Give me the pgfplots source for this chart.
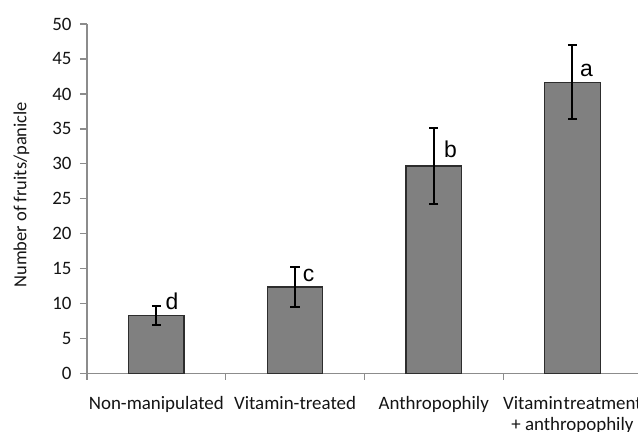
\documentclass[border=0pt]{standalone}
\usepackage{pgfplots}
\pgfplotsset{compat=1.18}
\usepackage{fontspec}
\setmainfont{Carlito}
\newfontfamily\arialfont{Liberation Sans}
\definecolor{barfill}{RGB}{128,128,128}
\definecolor{bardraw}{RGB}{45,45,45}
\definecolor{axgray}{RGB}{140,140,140}
\definecolor{txt}{RGB}{20,20,20}
\pgfplotstableread{
x y e
0 8.3 1.35
1 12.4 2.85
2 29.7 5.4
3 41.65 5.3
}\datatab
\begin{document}
\begin{tikzpicture}
\useasboundingbox (0bp,0bp) rectangle (638bp,432bp);
\clip (0bp,0bp) rectangle (638bp,432bp);
\begin{axis}[
  at={(87bp,58.3bp)}, anchor=south west,
  scale only axis, width=554.8bp, height=349.7bp,
  xmin=-0.5, xmax=3.5, ymin=0, ymax=50,
  axis x line=bottom, axis y line=left,
  axis line style={-, draw=axgray, line width=1.3bp},
  tick align=outside,
  ytick={0,5,...,50},
  major tick length=7bp, minor tick length=6bp,
  tick style={draw=axgray, line width=1.2bp},
  xtick={0,1,2,3},
  major x tick style={draw=none},
  minor xtick={-0.5,0.5,1.5,2.5},
  xticklabels={Non-manipulated,Vitamin-treated,Anthropophily,{Vitamin\hspace{0.05em}treatment\hspace{4bp}\\+ anthropophily}},
  xticklabel style={align=center, yshift=-12bp, text=txt},
  yticklabel style={text=txt, xshift=-5bp},
  ticklabel style={font=\fontsize{19}{21}\selectfont},
  /pgf/number format/assume math mode=true,
  ylabel={Number of fruits/panicle},
  ylabel style={at={(axis description cs:-0.118,0.512)}, anchor=center, font=\fontsize{18.5}{21}\selectfont, text=txt},
  clip=false,
]
\addplot[ybar, bar width=0.4, fill=barfill, draw=bardraw, line width=1.2bp,
  error bars/.cd, y dir=both, y explicit,
  error bar style={black, line width=2bp},
  error mark options={black, line width=2bp, rotate=90, mark size=4.6bp}]
  table[x=x, y=y, y error=e]{\datatab};
\node[anchor=base west, inner sep=0, font=\arialfont\fontsize{23}{26}\selectfont] at (axis cs:0.065,9.2) {d};
\node[anchor=base west, inner sep=0, font=\arialfont\fontsize{23}{26}\selectfont] at (axis cs:1.055,13.24) {c};
\node[anchor=base west, inner sep=0, font=\arialfont\fontsize{23}{26}\selectfont] at (axis cs:2.074,30.86) {b};
\node[anchor=base west, inner sep=0, font=\arialfont\fontsize{23}{26}\selectfont] at (axis cs:3.054,42.53) {a};
\end{axis}
\end{tikzpicture}
\end{document}
